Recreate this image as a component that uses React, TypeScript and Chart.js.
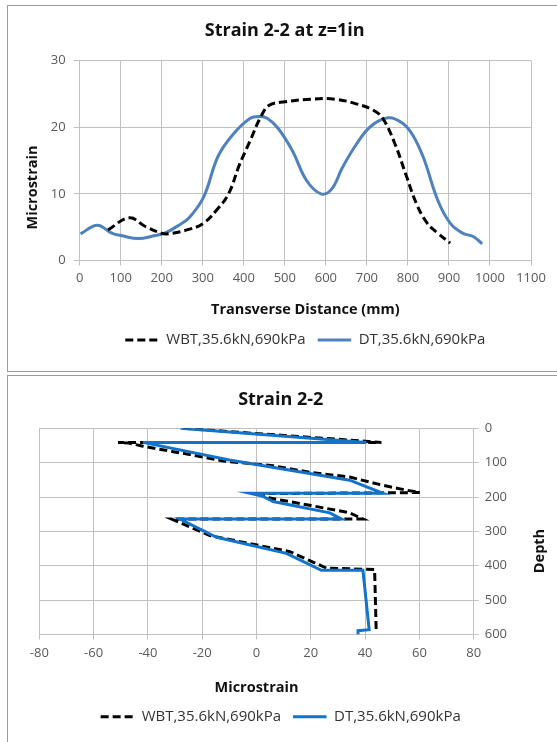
import React, { useEffect, useRef } from "react";
import { Chart, registerables } from "chart.js";

Chart.register(...registerables);

// ---------- Data: top chart (Strain 2-2 at z=1in) ----------
const TOP_X_TICKS = [0, 100, 200, 300, 400, 500, 600, 700, 800, 900, 1000, 1100];
const TOP_Y_TICKS = [0, 10, 20, 30];

const WBT_DIST = [69, 121, 160, 199, 216, 268, 302, 337, 363, 389, 415, 441, 462, 501, 562, 622, 674, 717, 739, 769, 795, 821, 847, 873, 903];
const WBT_STRAIN = [4.6, 6.4, 5.1, 4.1, 4.0, 4.7, 5.6, 7.8, 10, 14.3, 17.9, 21.5, 23.3, 23.8, 24.2, 24.2, 23.5, 22.5, 21.3, 17.4, 12.9, 8.5, 5.6, 4.1, 2.6];

const DT_DIST = [2, 43, 78, 104, 143, 181, 207, 242, 268, 302, 337, 372, 415, 440, 458, 484, 519, 553, 588, 614, 640, 674, 709, 752, 787, 812, 838, 873, 903, 933, 959, 981];
const DT_STRAIN = [4.0, 5.3, 4.1, 3.7, 3.3, 3.7, 4.1, 5.3, 6.5, 9.5, 15.6, 18.8, 21.3, 21.6, 21.3, 19.8, 16.4, 12, 10, 10.7, 13.9, 17.4, 20.1, 21.4, 20.6, 18.8, 15.4, 9, 5.6, 4.1, 3.6, 2.5];

// ---------- Data: bottom chart (Strain 2-2 profile) ----------
const BOT_X_TICKS = [-80, -60, -40, -20, 0, 20, 40, 60, 80];
const BOT_Y_TICKS = [0, 100, 200, 300, 400, 500, 600];

const WBT_PROFILE_STRAIN = [-27, 46, -51, -47, -41.8, -30.7, -24.6, -12.3, 6.1, 19.6, 34.3, 46.6, 55.2, 60.1, 1.5, 4.9, 19.6, 34.3, 39.2, -31.3, -17.2, 12.3, 25.8, 43.5, 44.1];
const WBT_PROFILE_DEPTH = [0, 41, 41, 43, 52, 68, 76, 95, 109, 128, 142, 166, 180, 187, 190, 203, 224, 246, 264, 264, 312, 359, 407, 411, 594];

const DT_PROFILE_STRAIN = [-28, 40.5, -41.8, -10, 34.3, 46.6, -2.5, 2.4, 6.1, 27, 31.3, -28.2, -14.7, 11, 23.9, 39.2, 41.5, 37.4, 37.4];
const DT_PROFILE_DEPTH = [0, 41, 41, 92, 151, 189, 189, 198, 213, 246, 264, 264, 317, 364, 413, 413, 586, 589, 600];

const SERIES_WBT = "WBT,35.6kN,690kPa";
const SERIES_DT = "DT,35.6kN,690kPa";

const FONT = "'Open Sans', 'DejaVu Sans', sans-serif";
const GRID = "#c0c0c0";
const TICK_COLOR = "#595959";

const toXY = (xs: number[], ys: number[]) => xs.map((x, i) => ({ x, y: ys[i] }));

const sideTitlePlugin = {
  id: "sideTitle",
  afterDraw(chart: any, _args: any, opts: any) {
    if (!opts || !opts.text) return;
    const ctx = chart.ctx;
    ctx.save();
    ctx.translate(opts.x, opts.y);
    ctx.rotate(-Math.PI / 2);
    ctx.font = `bold ${opts.size}px ${FONT}`;
    ctx.fillStyle = opts.color;
    ctx.textAlign = "center";
    ctx.textBaseline = "middle";
    ctx.fillText(opts.text, 0, 0);
    ctx.restore();
  },
};

const setTicks = (values: number[]) => (scale: any) => {
  scale.ticks = values.map((v) => ({ value: v }));
};

const plainTick = (v: any) => String(v);

const lineLegendLabels = (chart: any) => {
  const base = (Chart.defaults as any).plugins.legend.labels.generateLabels(chart);
  return base
    .map((it: any) => {
      const ds = chart.data.datasets[it.datasetIndex];
      return {
        ...it,
        pointStyle: "line",
        lineDash: ds.borderDash || [],
        lineDashOffset: 0,
        lineWidth: ds.borderWidth,
        lineCap: "butt",
        strokeStyle: ds.borderColor,
        fillStyle: ds.borderColor,
      };
    })
    .sort((a: any, b: any) => a.datasetIndex - b.datasetIndex);
};

export default function App() {
  const topRef = useRef<HTMLCanvasElement | null>(null);
  const botRef = useRef<HTMLCanvasElement | null>(null);

  useEffect(() => {
    Chart.defaults.font.family = FONT;

    const legendLabels = {
      usePointStyle: true,
      pointStyle: "line",
      pointStyleWidth: 33.5,
      font: { size: 15 },
      color: "#333333",
      padding: 12,
      generateLabels: lineLegendLabels,
    };

    const top = new Chart(topRef.current as HTMLCanvasElement, {
      type: "line",
      data: {
        datasets: [
          {
            label: SERIES_WBT,
            data: toXY(WBT_DIST, WBT_STRAIN),
            borderColor: "#000000",
            backgroundColor: "#000000",
            borderWidth: 3,
            borderDash: [8, 4],
            pointRadius: 0,
            tension: 0.4,
            fill: false,
          },
          {
            label: SERIES_DT,
            data: toXY(DT_DIST, DT_STRAIN),
            borderColor: "#4f81bd",
            backgroundColor: "#4f81bd",
            borderWidth: 3,
            pointRadius: 0,
            tension: 0.4,
            fill: false,
          },
        ],
      },
      options: {
        animation: false,
        responsive: false,
        maintainAspectRatio: false,
        devicePixelRatio: 1,
        layout: { padding: { left: 29.4, right: 26, top: 0, bottom: 9.5 } },
        plugins: {
          title: {
            display: true,
            text: "Strain 2-2 at z=1in",
            font: { size: 18, weight: "bold" },
            color: "#111111",
            padding: { top: 14.4, bottom: 18.5 },
          },
          legend: {
            position: "bottom",
            fullSize: false,
            labels: legendLabels as any,
          },
          tooltip: { enabled: false },
          sideTitle: { text: "Microstrain", x: 24.3, y: 181.5, size: 14.5, color: "#111111" },
        } as any,
        scales: {
          x: {
            type: "linear",
            min: 0,
            max: 1100,
            afterBuildTicks: setTicks(TOP_X_TICKS),
            grid: { color: GRID, tickColor: GRID, tickLength: 5 },
            border: { color: GRID },
            ticks: { font: { size: 13 }, color: TICK_COLOR, padding: 5, maxRotation: 0, autoSkip: false, callback: plainTick },
            title: {
              display: true,
              text: "Transverse Distance (mm)",
              font: { size: 14.5, weight: "bold" },
              color: "#111111",
              padding: { top: 10.2, bottom: 1.8 },
            },
          },
          y: {
            type: "linear",
            min: 0,
            max: 30,
            afterBuildTicks: setTicks(TOP_Y_TICKS),
            afterFit: (s: any) => {
              s.width = 41.3;
            },
            grid: { color: GRID, tickColor: GRID, tickLength: 6 },
            border: { color: GRID },
            ticks: { font: { size: 13 }, color: TICK_COLOR, padding: 8, callback: plainTick },
          },
        },
      },
      plugins: [sideTitlePlugin],
    });

    const bot = new Chart(botRef.current as HTMLCanvasElement, {
      type: "scatter",
      data: {
        datasets: [
          {
            label: SERIES_WBT,
            data: toXY(WBT_PROFILE_STRAIN, WBT_PROFILE_DEPTH),
            showLine: true,
            borderColor: "#000000",
            backgroundColor: "#000000",
            borderWidth: 3,
            borderDash: [8, 4],
            pointRadius: 0,
            tension: 0,
            order: 1,
          },
          {
            label: SERIES_DT,
            data: toXY(DT_PROFILE_STRAIN, DT_PROFILE_DEPTH),
            showLine: true,
            borderColor: "#1273c8",
            backgroundColor: "#1273c8",
            borderWidth: 3,
            pointRadius: 0,
            tension: 0,
            order: 0,
          },
        ],
      },
      options: {
        animation: false,
        responsive: false,
        maintainAspectRatio: false,
        devicePixelRatio: 1,
        layout: { padding: { left: 30.3, right: 34.9, top: 0, bottom: 7.8 } },
        plugins: {
          title: {
            display: true,
            text: "Strain 2-2",
            font: { size: 18, weight: "bold" },
            color: "#111111",
            padding: { top: 14.2, bottom: 17.5 },
          },
          legend: {
            position: "bottom",
            labels: legendLabels as any,
          },
          tooltip: { enabled: false },
          sideTitle: { text: "Depth", x: 531, y: 176, size: 14.5, color: "#111111" },
        } as any,
        scales: {
          x: {
            type: "linear",
            min: -80,
            max: 80,
            afterBuildTicks: setTicks(BOT_X_TICKS),
            grid: { color: GRID, tickColor: GRID, tickLength: 5 },
            border: { color: GRID },
            ticks: { font: { size: 13 }, color: TICK_COLOR, padding: 5.5, maxRotation: 0, autoSkip: false, callback: plainTick },
            title: {
              display: true,
              text: "Microstrain",
              font: { size: 14.5, weight: "bold" },
              color: "#111111",
              padding: { top: 12.9, bottom: 0.8 },
            },
          },
          y: {
            type: "linear",
            position: "right",
            reverse: true,
            min: 0,
            max: 600,
            afterBuildTicks: setTicks(BOT_Y_TICKS),
            afterFit: (s: any) => {
              s.width = 48.4;
            },
            grid: { color: GRID, tickColor: GRID, tickLength: 5 },
            border: { color: GRID },
            ticks: { font: { size: 13 }, color: TICK_COLOR, padding: 6, callback: plainTick },
          },
        },
      },
      plugins: [sideTitlePlugin],
    });

    return () => {
      top.destroy();
      bot.destroy();
    };
  }, []);

  return (
    <div
      style={{
        position: "absolute",
        left: 0,
        top: 0,
        width: 557,
        height: 742,
        overflow: "hidden",
        background: "#ffffff",
      }}
    >
      <canvas
        ref={topRef}
        width={548}
        height={361}
        style={{ position: "absolute", left: 9, top: 6, width: 548, height: 361 }}
      />
      <canvas
        ref={botRef}
        width={548}
        height={367}
        style={{ position: "absolute", left: 9, top: 375, width: 548, height: 367 }}
      />
      <div
        style={{
          position: "absolute",
          left: 7,
          top: 5,
          width: 620,
          height: 367,
          border: "1px solid #9a9a9a",
          boxSizing: "border-box",
          pointerEvents: "none",
        }}
      />
      <div
        style={{
          position: "absolute",
          left: 7,
          top: 375,
          width: 620,
          height: 420,
          border: "1px solid #9a9a9a",
          boxSizing: "border-box",
          pointerEvents: "none",
        }}
      />
    </div>
  );
}
